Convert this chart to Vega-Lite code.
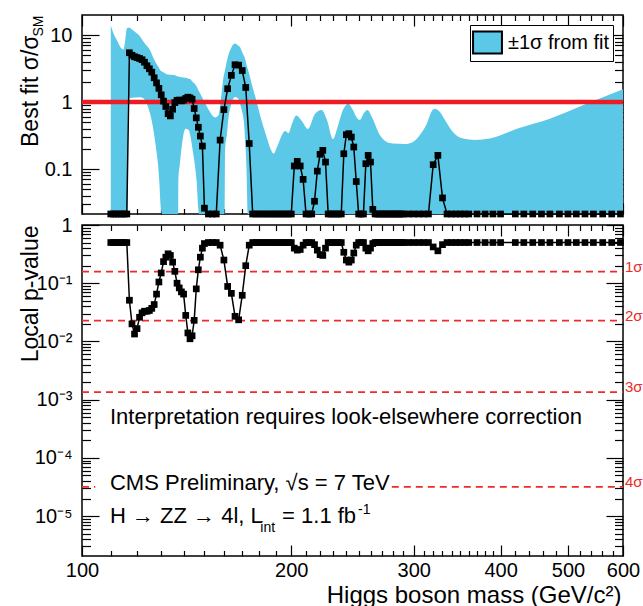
{
  "$schema": "https://vega.github.io/schema/vega-lite/v6.json",
  "background": "white",
  "padding": {"left": 18, "top": 13, "right": 0, "bottom": 0},
  "spacing": 11,
  "bounds": "flush",
  "config": {
    "font": "Liberation Sans",
    "view": {"stroke": "black", "strokeWidth": 1.5},
    "axis": {
      "domain": false,
      "grid": false,
      "tickColor": "black",
      "tickWidth": 1.2,
      "labelFont": "Liberation Sans",
      "labelFontSize": 20,
      "labelColor": "black",
      "labelOverlap": false,
      "labelFlush": false,
      "titleFont": "Liberation Sans",
      "titleFontWeight": "normal",
      "titleColor": "black",
      "zindex": 1
    }
  },
  "datasets": {
    "scan": [
      {"m": 110, "mu": 0, "p": 0.5}, {"m": 111, "mu": 0, "p": 0.5}, {"m": 112, "mu": 0, "p": 0.5},
      {"m": 113, "mu": 0, "p": 0.5}, {"m": 114, "mu": 0, "p": 0.5}, {"m": 115, "mu": 0, "p": 0.5},
      {"m": 116, "mu": 0, "p": 0.5}, {"m": 117, "mu": 5.44, "p": 0.051}, {"m": 118, "mu": 4.99, "p": 0.02},
      {"m": 119, "mu": 4.74, "p": 0.0134}, {"m": 120, "mu": 4.6, "p": 0.0166}, {"m": 121, "mu": 4.47, "p": 0.026},
      {"m": 122, "mu": 4.28, "p": 0.031}, {"m": 123, "mu": 3.93, "p": 0.033}, {"m": 124, "mu": 3.48, "p": 0.033},
      {"m": 125, "mu": 3.13, "p": 0.034}, {"m": 126, "mu": 2.79, "p": 0.037}, {"m": 127, "mu": 2.3, "p": 0.043},
      {"m": 128, "mu": 1.93, "p": 0.065}, {"m": 129, "mu": 1.6, "p": 0.105}, {"m": 130, "mu": 1.28, "p": 0.15},
      {"m": 131, "mu": 1.03, "p": 0.235}, {"m": 132, "mu": 0.857, "p": 0.28}, {"m": 133, "mu": 0.67, "p": 0.32},
      {"m": 134, "mu": 0.62, "p": 0.3}, {"m": 135, "mu": 0.78, "p": 0.23}, {"m": 136, "mu": 0.98, "p": 0.16},
      {"m": 137, "mu": 1.06, "p": 0.1}, {"m": 138, "mu": 1.07, "p": 0.083}, {"m": 139, "mu": 1.04, "p": 0.071},
      {"m": 140, "mu": 1.07, "p": 0.065}, {"m": 141, "mu": 1.13, "p": 0.028}, {"m": 142, "mu": 1.18, "p": 0.014},
      {"m": 143, "mu": 1.15, "p": 0.0111}, {"m": 144, "mu": 1.1, "p": 0.0125}, {"m": 145, "mu": 0.8, "p": 0.023},
      {"m": 146, "mu": 0.58, "p": 0.08}, {"m": 147, "mu": 0.42, "p": 0.17}, {"m": 148, "mu": 0.31, "p": 0.28},
      {"m": 149, "mu": 0.22, "p": 0.4}, {"m": 150, "mu": 0.026, "p": 0.48}, {"m": 152, "mu": 0, "p": 0.5},
      {"m": 154, "mu": 0, "p": 0.5}, {"m": 156, "mu": 0, "p": 0.5}, {"m": 158, "mu": 0.27, "p": 0.45},
      {"m": 160, "mu": 0.77, "p": 0.25}, {"m": 162, "mu": 1.58, "p": 0.088}, {"m": 164, "mu": 2.5, "p": 0.067},
      {"m": 166, "mu": 3.6, "p": 0.027}, {"m": 168, "mu": 3.55, "p": 0.0235}, {"m": 170, "mu": 2.95, "p": 0.062},
      {"m": 172, "mu": 1.65, "p": 0.2}, {"m": 174, "mu": 0.24, "p": 0.45}, {"m": 176, "mu": 0, "p": 0.5},
      {"m": 178, "mu": 0, "p": 0.5}, {"m": 180, "mu": 0, "p": 0.5}, {"m": 182, "mu": 0, "p": 0.5},
      {"m": 184, "mu": 0, "p": 0.5}, {"m": 186, "mu": 0, "p": 0.5}, {"m": 188, "mu": 0, "p": 0.5},
      {"m": 190, "mu": 0, "p": 0.5}, {"m": 192, "mu": 0, "p": 0.5}, {"m": 194, "mu": 0, "p": 0.5},
      {"m": 196, "mu": 0, "p": 0.5}, {"m": 198, "mu": 0, "p": 0.5}, {"m": 200, "mu": 0, "p": 0.5},
      {"m": 202, "mu": 0.111, "p": 0.4}, {"m": 204, "mu": 0.13, "p": 0.37}, {"m": 206, "mu": 0.111, "p": 0.38},
      {"m": 208, "mu": 0.07, "p": 0.45}, {"m": 210, "mu": 0, "p": 0.5}, {"m": 212, "mu": 0, "p": 0.5},
      {"m": 214, "mu": 0, "p": 0.5}, {"m": 216, "mu": 0.033, "p": 0.46}, {"m": 218, "mu": 0.093, "p": 0.37},
      {"m": 220, "mu": 0.166, "p": 0.31}, {"m": 222, "mu": 0.19, "p": 0.3}, {"m": 224, "mu": 0.127, "p": 0.4},
      {"m": 226, "mu": 0, "p": 0.5}, {"m": 228, "mu": 0, "p": 0.5}, {"m": 230, "mu": 0, "p": 0.5},
      {"m": 232, "mu": 0, "p": 0.5}, {"m": 234, "mu": 0, "p": 0.5}, {"m": 236, "mu": 0, "p": 0.5},
      {"m": 238, "mu": 0.169, "p": 0.34}, {"m": 240, "mu": 0.325, "p": 0.25}, {"m": 242, "mu": 0.337, "p": 0.23},
      {"m": 244, "mu": 0.3, "p": 0.25}, {"m": 246, "mu": 0.213, "p": 0.33}, {"m": 248, "mu": 0.065, "p": 0.45},
      {"m": 250, "mu": 0, "p": 0.5}, {"m": 252, "mu": 0, "p": 0.5}, {"m": 254, "mu": 0, "p": 0.5},
      {"m": 256, "mu": 0.12, "p": 0.4}, {"m": 258, "mu": 0.16, "p": 0.36}, {"m": 260, "mu": 0.127, "p": 0.4},
      {"m": 262, "mu": 0.025, "p": 0.48}, {"m": 264, "mu": 0, "p": 0.5}, {"m": 266, "mu": 0, "p": 0.5},
      {"m": 268, "mu": 0, "p": 0.5}, {"m": 270, "mu": 0, "p": 0.5}, {"m": 272, "mu": 0, "p": 0.5},
      {"m": 274, "mu": 0, "p": 0.5}, {"m": 276, "mu": 0, "p": 0.5}, {"m": 278, "mu": 0, "p": 0.5},
      {"m": 280, "mu": 0, "p": 0.5}, {"m": 282, "mu": 0, "p": 0.5}, {"m": 284, "mu": 0, "p": 0.5},
      {"m": 286, "mu": 0, "p": 0.5}, {"m": 288, "mu": 0, "p": 0.5}, {"m": 290, "mu": 0, "p": 0.5},
      {"m": 295, "mu": 0, "p": 0.5}, {"m": 300, "mu": 0, "p": 0.5}, {"m": 305, "mu": 0, "p": 0.5},
      {"m": 310, "mu": 0, "p": 0.5}, {"m": 315, "mu": 0, "p": 0.5}, {"m": 320, "mu": 0.116, "p": 0.42},
      {"m": 325, "mu": 0.16, "p": 0.36}, {"m": 330, "mu": 0.037, "p": 0.46}, {"m": 335, "mu": 0, "p": 0.5},
      {"m": 340, "mu": 0, "p": 0.5}, {"m": 345, "mu": 0, "p": 0.5}, {"m": 350, "mu": 0, "p": 0.5},
      {"m": 355, "mu": 0, "p": 0.5}, {"m": 360, "mu": 0, "p": 0.5}, {"m": 370, "mu": 0, "p": 0.5},
      {"m": 380, "mu": 0, "p": 0.5}, {"m": 390, "mu": 0, "p": 0.5}, {"m": 400, "mu": 0, "p": 0.5},
      {"m": 420, "mu": 0, "p": 0.5}, {"m": 432, "mu": 0, "p": 0.5}, {"m": 445, "mu": 0, "p": 0.5},
      {"m": 458, "mu": 0, "p": 0.5}, {"m": 471, "mu": 0, "p": 0.5}, {"m": 486, "mu": 0, "p": 0.5},
      {"m": 500, "mu": 0, "p": 0.5}, {"m": 514, "mu": 0, "p": 0.5}, {"m": 529, "mu": 0, "p": 0.5},
      {"m": 544, "mu": 0, "p": 0.5}, {"m": 561, "mu": 0, "p": 0.5}, {"m": 578, "mu": 0, "p": 0.5},
      {"m": 595, "mu": 0, "p": 0.5}
    ],
    "band": [
      {"m": 110, "hi": 13.96, "lo": 0}, {"m": 110.8, "hi": 11.09, "lo": 0}, {"m": 112.3, "hi": 8.28, "lo": 0},
      {"m": 113.8, "hi": 6.4, "lo": 0}, {"m": 114.7, "hi": 6.08, "lo": 0}, {"m": 115.3, "hi": 7.86, "lo": 0},
      {"m": 116.0, "hi": 12.5, "lo": 0}, {"m": 116.3, "hi": 12.7, "lo": 0}, {"m": 116.4, "hi": 12.7, "lo": 1.12},
      {"m": 116.9, "hi": 12.94, "lo": 1.13}, {"m": 118.0, "hi": 12.08, "lo": 1.16}, {"m": 120.0, "hi": 10.53, "lo": 1.17},
      {"m": 121.2, "hi": 9.5, "lo": 1.18}, {"m": 122.4, "hi": 8.14, "lo": 1.15}, {"m": 123.9, "hi": 6.9, "lo": 0.95},
      {"m": 124.4, "hi": 6.62, "lo": 0.85}, {"m": 125.3, "hi": 5.9, "lo": 0.67}, {"m": 126.5, "hi": 4.69, "lo": 0.42},
      {"m": 128.0, "hi": 3.7, "lo": 0.18}, {"m": 128.6, "hi": 3.44, "lo": 0.12}, {"m": 129.1, "hi": 3.2, "lo": 0.072},
      {"m": 129.9, "hi": 2.9, "lo": 0.025}, {"m": 130.3, "hi": 2.85, "lo": 0}, {"m": 130.7, "hi": 2.8, "lo": 0},
      {"m": 132.9, "hi": 2.57, "lo": 0}, {"m": 135.6, "hi": 2.53, "lo": 0}, {"m": 137.5, "hi": 2.4, "lo": 0},
      {"m": 137.6, "hi": 2.4, "lo": 0.07}, {"m": 138.3, "hi": 2.36, "lo": 0.12}, {"m": 139.0, "hi": 2.35, "lo": 0.2},
      {"m": 140.9, "hi": 2.31, "lo": 0.4}, {"m": 142.5, "hi": 2.23, "lo": 0.38}, {"m": 143.0, "hi": 2.2, "lo": 0.33},
      {"m": 144.4, "hi": 1.98, "lo": 0.18}, {"m": 145.4, "hi": 1.86, "lo": 0.11}, {"m": 146.2, "hi": 1.7, "lo": 0.064},
      {"m": 147.0, "hi": 1.5, "lo": 0.025}, {"m": 147.3, "hi": 1.45, "lo": 0}, {"m": 150.3, "hi": 0.966, "lo": 0},
      {"m": 152.8, "hi": 0.709, "lo": 0}, {"m": 155.4, "hi": 0.587, "lo": 0}, {"m": 157.2, "hi": 0.64, "lo": 0},
      {"m": 158.5, "hi": 1.147, "lo": 0}, {"m": 159.8, "hi": 2.36, "lo": 0}, {"m": 160.5, "hi": 2.9, "lo": 0},
      {"m": 160.6, "hi": 3.0, "lo": 0.19}, {"m": 161.7, "hi": 4.24, "lo": 0.35}, {"m": 162.1, "hi": 4.7, "lo": 0.47},
      {"m": 164.0, "hi": 6.5, "lo": 0.94}, {"m": 166.0, "hi": 7.45, "lo": 1.19}, {"m": 167.8, "hi": 6.9, "lo": 1.12},
      {"m": 168.7, "hi": 6.62, "lo": 0.95}, {"m": 169.8, "hi": 5.7, "lo": 0.75}, {"m": 171.0, "hi": 4.86, "lo": 0.48},
      {"m": 171.4, "hi": 4.6, "lo": 0.34}, {"m": 172.4, "hi": 3.6, "lo": 0.107}, {"m": 173.2, "hi": 3.1, "lo": 0},
      {"m": 175.6, "hi": 1.79, "lo": 0}, {"m": 177.9, "hi": 1.11, "lo": 0}, {"m": 181.5, "hi": 0.503, "lo": 0},
      {"m": 184.5, "hi": 0.29, "lo": 0}, {"m": 187.0, "hi": 0.192, "lo": 0}, {"m": 188.6, "hi": 0.17, "lo": 0},
      {"m": 190.8, "hi": 0.213, "lo": 0}, {"m": 193.3, "hi": 0.3, "lo": 0}, {"m": 195.9, "hi": 0.369, "lo": 0},
      {"m": 198.2, "hi": 0.345, "lo": 0}, {"m": 200.4, "hi": 0.469, "lo": 0}, {"m": 203.4, "hi": 0.629, "lo": 0},
      {"m": 207.1, "hi": 0.52, "lo": 0}, {"m": 211.3, "hi": 0.395, "lo": 0}, {"m": 216.3, "hi": 0.662, "lo": 0},
      {"m": 221.0, "hi": 0.76, "lo": 0}, {"m": 225.1, "hi": 0.539, "lo": 0}, {"m": 229.6, "hi": 0.28, "lo": 0},
      {"m": 233.4, "hi": 0.438, "lo": 0}, {"m": 237.3, "hi": 0.76, "lo": 0}, {"m": 241.5, "hi": 0.943, "lo": 0},
      {"m": 245.3, "hi": 0.76, "lo": 0}, {"m": 248.6, "hi": 0.577, "lo": 0}, {"m": 251.0, "hi": 0.539, "lo": 0},
      {"m": 254.4, "hi": 0.685, "lo": 0}, {"m": 257.4, "hi": 0.76, "lo": 0}, {"m": 261.2, "hi": 0.597, "lo": 0},
      {"m": 268.2, "hi": 0.322, "lo": 0}, {"m": 274.5, "hi": 0.253, "lo": 0}, {"m": 280.0, "hi": 0.24, "lo": 0},
      {"m": 291.4, "hi": 0.236, "lo": 0}, {"m": 299.2, "hi": 0.253, "lo": 0}, {"m": 306.2, "hi": 0.322, "lo": 0},
      {"m": 313.4, "hi": 0.478, "lo": 0}, {"m": 318.6, "hi": 0.734, "lo": 0}, {"m": 321.8, "hi": 0.794, "lo": 0},
      {"m": 327.2, "hi": 0.709, "lo": 0}, {"m": 332.7, "hi": 0.539, "lo": 0}, {"m": 341.6, "hi": 0.357, "lo": 0},
      {"m": 353.1, "hi": 0.285, "lo": 0}, {"m": 367.4, "hi": 0.271, "lo": 0}, {"m": 386.1, "hi": 0.285, "lo": 0},
      {"m": 422.3, "hi": 0.399, "lo": 0}, {"m": 470.9, "hi": 0.563, "lo": 0}, {"m": 525.3, "hi": 0.893, "lo": 0},
      {"m": 600, "hi": 1.55, "lo": 0}
    ],
    "sigma": [
      {"label": "1σ", "p": 0.1587, "from": 100, "to": 600},
      {"label": "2σ", "p": 0.02275, "from": 100, "to": 600},
      {"label": "3σ", "p": 0.00135, "from": 100, "to": 600},
      {"label": "4σ", "p": 3.167e-5, "from": 100, "to": 104.5},
      {"label": "4σ", "p": 3.167e-5, "from": 279, "to": 600}
    ]
  },
  "vconcat": [
    {
      "width": 541,
      "height": 199,
      "layer": [
        {
          "data": {"name": "band"},
          "mark": {"type": "area", "interpolate": "monotone", "opacity": 1},
          "encoding": {
            "x": {"field": "m", "type": "quantitative",
                  "scale": {"type": "log", "domain": [100, 600], "nice": false},
                  "axis": {"orient": "bottom", "labels": false, "title": null,
                           "values": [100,110,120,130,140,150,160,170,180,190,200,210,220,230,240,250,260,270,280,290,300,310,320,330,340,350,360,370,380,390,400,420,440,460,480,500,520,540,560,580,600],
                           "tickSize": {"condition": {"test": "datum.value % 100 == 0", "value": -11}, "value": -5.5}}},
            "y": {"field": "hi", "type": "quantitative",
                  "scale": {"type": "log", "domain": [0.0213, 19.9], "nice": false, "clamp": true},
                  "axis": {"orient": "left",
                           "values": [0.03,0.04,0.05,0.06,0.07,0.08,0.09,0.1,0.2,0.3,0.4,0.5,0.6,0.7,0.8,0.9,1,2,3,4,5,6,7,8,9,10],
                           "labelExpr": "abs(log(datum.value)/LN10 - round(log(datum.value)/LN10)) < 0.01 ? format(datum.value, '~g') : ''",
                           "tickSize": {"condition": {"test": "abs(log(datum.value)/LN10 - round(log(datum.value)/LN10)) < 0.01", "value": -17}, "value": -8.5},
                           "labelPadding": 27,
                           "title": "Best fit σ/σ", "titleFontSize": 23, "titleAngle": 270,
                           "titleX": -45, "titleY": 20, "titleAlign": "right", "titleBaseline": "alphabetic"}},
            "y2": {"field": "lo"},
            "fill": {"datum": "±1σ from fit", "type": "nominal",
                     "scale": {"range": ["#5ac8e6"]},
                     "legend": {"title": null, "orient": "top-right", "offset": 10, "padding": 3,
                                "strokeColor": "black", "fillColor": "white",
                                "symbolType": "M-1.07,-0.81H1.07V0.81H-1.07Z", "symbolSize": 729,
                                "symbolStrokeColor": "black", "symbolStrokeWidth": 2,
                                "labelFont": "Liberation Sans", "labelFontSize": 20, "labelColor": "black", "labelOffset": 6,
                                "labelExpr": "datum.label + '\u00a0\u00a0\u00a0'",
                                "encode": {"symbols": {"update": {"stroke": {"value": "black"}, "strokeWidth": {"value": 2}}},
                                           "legend": {"update": {"strokeWidth": {"value": 1.2}}}}}}
          }
        },
        {
          "data": {"values": [{}]},
          "mark": {"type": "rule", "color": "#ed1c24", "strokeWidth": 4.5},
          "encoding": {
            "y": {"datum": 1, "type": "quantitative",
                  "scale": {"type": "log", "domain": [0.0213, 19.9], "nice": false, "clamp": true},
                  "axis": {"orient": "right", "labels": false, "title": null,
                           "values": [0.03,0.04,0.05,0.06,0.07,0.08,0.09,0.1,0.2,0.3,0.4,0.5,0.6,0.7,0.8,0.9,1,2,3,4,5,6,7,8,9,10],
                           "tickSize": {"condition": {"test": "abs(log(datum.value)/LN10 - round(log(datum.value)/LN10)) < 0.01", "value": -17}, "value": -8.5}}}
          }
        },
        {
          "data": {"name": "scan"},
          "mark": {"type": "line", "color": "black", "strokeWidth": 1.5},
          "encoding": {
            "x": {"field": "m", "type": "quantitative",
                  "scale": {"type": "log", "domain": [100, 600], "nice": false},
                  "axis": {"orient": "top", "labels": false, "title": null,
                           "values": [100,110,120,130,140,150,160,170,180,190,200,210,220,230,240,250,260,270,280,290,300,310,320,330,340,350,360,370,380,390,400,420,440,460,480,500,520,540,560,580,600],
                           "tickSize": {"condition": {"test": "datum.value % 100 == 0", "value": -11}, "value": -5.5}}},
            "y": {"field": "mu", "type": "quantitative",
                  "scale": {"type": "log", "domain": [0.0213, 19.9], "nice": false, "clamp": true},
                  "axis": {"orient": "left", "ticks": false, "labels": false,
                           "title": "SM", "titleFontSize": 14, "titleAngle": 270,
                           "titleX": -40, "titleY": 0, "titleAlign": "right", "titleBaseline": "alphabetic"}}
          }
        },
        {
          "data": {"name": "scan"},
          "mark": {"type": "square", "color": "black", "size": 45, "opacity": 1},
          "encoding": {
            "x": {"field": "m", "type": "quantitative", "scale": {"type": "log", "domain": [100, 600], "nice": false}, "axis": null},
            "y": {"field": "mu", "type": "quantitative", "scale": {"type": "log", "domain": [0.0213, 19.9], "nice": false, "clamp": true}, "axis": null}
          }
        }
      ],
      "resolve": {"axis": {"x": "independent", "y": "independent"}}
    },
    {
      "width": 541,
      "height": 331,
      "layer": [
        {
          "data": {"name": "sigma"},
          "mark": {"type": "rule", "color": "#ee2a2a", "strokeWidth": 1.8, "strokeDash": [7, 5]},
          "encoding": {
            "x": {"field": "from", "type": "quantitative",
                  "scale": {"type": "log", "domain": [100, 600], "nice": false},
                  "axis": {"orient": "top", "labels": false, "title": null,
                           "values": [100,110,120,130,140,150,160,170,180,190,200,210,220,230,240,250,260,270,280,290,300,310,320,330,340,350,360,370,380,390,400,420,440,460,480,500,520,540,560,580,600],
                           "tickSize": {"condition": {"test": "datum.value % 100 == 0", "value": -11}, "value": -5.5}}},
            "x2": {"field": "to"},
            "y": {"field": "p", "type": "quantitative",
                  "scale": {"type": "log", "domain": [2.06e-6, 1], "nice": false, "clamp": true},
                  "axis": {"orient": "right", "labels": false, "title": null,
                           "values": [3e-6,4e-6,5e-6,6e-6,7e-6,8e-6,9e-6,1e-5,2e-5,3e-5,4e-5,5e-5,6e-5,7e-5,8e-5,9e-5,1e-4,2e-4,3e-4,4e-4,5e-4,6e-4,7e-4,8e-4,9e-4,1e-3,2e-3,3e-3,4e-3,5e-3,6e-3,7e-3,8e-3,9e-3,0.01,0.02,0.03,0.04,0.05,0.06,0.07,0.08,0.09,0.1,0.2,0.3,0.4,0.5,0.6,0.7,0.8,0.9,1],
                           "tickSize": {"condition": {"test": "abs(log(datum.value)/LN10 - round(log(datum.value)/LN10)) < 0.01", "value": -17}, "value": -8.5}}}
          }
        },
        {
          "data": {"name": "scan"},
          "mark": {"type": "line", "color": "black", "strokeWidth": 1.5},
          "encoding": {
            "x": {"field": "m", "type": "quantitative",
                  "scale": {"type": "log", "domain": [100, 600], "nice": false},
                  "axis": {"orient": "bottom",
                           "values": [100,110,120,130,140,150,160,170,180,190,200,210,220,230,240,250,260,270,280,290,300,310,320,330,340,350,360,370,380,390,400,420,440,460,480,500,520,540,560,580,600],
                           "labelExpr": "datum.value % 100 == 0 ? format(datum.value, 'd') : ''",
                           "tickSize": {"condition": {"test": "datum.value % 100 == 0", "value": -11}, "value": -5.5},
                           "labelPadding": 15, "labelAlign": "center",
                           "title": "Higgs boson mass (GeV/c²)", "titleFontSize": 24,
                           "titleX": 539, "titleY": 46, "titleAlign": "right", "titleBaseline": "alphabetic"}},
            "y": {"field": "p", "type": "quantitative",
                  "scale": {"type": "log", "domain": [2.06e-6, 1], "nice": false, "clamp": true},
                  "axis": {"orient": "left",
                           "values": [3e-6,4e-6,5e-6,6e-6,7e-6,8e-6,9e-6,1e-5,2e-5,3e-5,4e-5,5e-5,6e-5,7e-5,8e-5,9e-5,1e-4,2e-4,3e-4,4e-4,5e-4,6e-4,7e-4,8e-4,9e-4,1e-3,2e-3,3e-3,4e-3,5e-3,6e-3,7e-3,8e-3,9e-3,0.01,0.02,0.03,0.04,0.05,0.06,0.07,0.08,0.09,0.1,0.2,0.3,0.4,0.5,0.6,0.7,0.8,0.9,1],
                           "labelExpr": "abs(log(datum.value)/LN10 - round(log(datum.value)/LN10)) < 0.01 ? (datum.value > 0.5 ? '1' : '10' + ['', '⁻¹', '⁻²', '⁻³', '⁻⁴', '⁻⁵'][round(-log(datum.value)/LN10)]) : ''",
                           "tickSize": {"condition": {"test": "abs(log(datum.value)/LN10 - round(log(datum.value)/LN10)) < 0.01", "value": -17}, "value": -8.5},
                           "labelPadding": 27,
                           "title": "Local p-value", "titleFontSize": 23, "titleAngle": 270,
                           "titleX": -45, "titleY": 0, "titleAlign": "right", "titleBaseline": "alphabetic"}}
          }
        },
        {
          "data": {"name": "scan"},
          "mark": {"type": "square", "color": "black", "size": 45, "opacity": 1},
          "encoding": {
            "x": {"field": "m", "type": "quantitative", "scale": {"type": "log", "domain": [100, 600], "nice": false}, "axis": null},
            "y": {"field": "p", "type": "quantitative", "scale": {"type": "log", "domain": [2.06e-6, 1], "nice": false, "clamp": true}, "axis": null}
          }
        },
        {
          "data": {"name": "sigma"},
          "transform": [{"filter": "datum.to == 600"}],
          "mark": {"type": "text", "color": "#ee2a2a", "fontSize": 15, "align": "left", "baseline": "alphabetic", "dx": 2, "font": "Liberation Sans"},
          "encoding": {
            "x": {"datum": 600, "type": "quantitative", "scale": {"type": "log", "domain": [100, 600], "nice": false}, "axis": null},
            "y": {"field": "p", "type": "quantitative", "scale": {"type": "log", "domain": [2.06e-6, 1], "nice": false, "clamp": true}, "axis": null},
            "text": {"field": "label"}
          }
        },
        {
          "data": {"values": [{}]},
          "mark": {"type": "text", "text": "Interpretation requires look-elsewhere correction", "fontSize": 22, "align": "left", "baseline": "alphabetic", "color": "black", "font": "Liberation Sans"},
          "encoding": {
            "x": {"datum": 109.7, "type": "quantitative", "scale": {"type": "log", "domain": [100, 600], "nice": false}, "axis": null},
            "y": {"datum": 0.000385, "type": "quantitative", "scale": {"type": "log", "domain": [2.06e-6, 1], "nice": false, "clamp": true}, "axis": null}
          }
        },
        {
          "data": {"values": [{}]},
          "mark": {"type": "text", "text": "CMS Preliminary, √s = 7 TeV", "fontSize": 22, "align": "left", "baseline": "alphabetic", "color": "black", "font": "Liberation Sans"},
          "encoding": {
            "x": {"datum": 109.7, "type": "quantitative", "scale": {"type": "log", "domain": [100, 600], "nice": false}, "axis": null},
            "y": {"datum": 0.0000276, "type": "quantitative", "scale": {"type": "log", "domain": [2.06e-6, 1], "nice": false, "clamp": true}, "axis": null}
          }
        },
        {
          "data": {"values": [{}]},
          "mark": {"type": "text", "text": "H → ZZ → 4l, L", "fontSize": 22, "align": "left", "baseline": "alphabetic", "color": "black", "font": "Liberation Sans"},
          "encoding": {
            "x": {"datum": 109.7, "type": "quantitative", "scale": {"type": "log", "domain": [100, 600], "nice": false}, "axis": null},
            "y": {"datum": 0.00000767, "type": "quantitative", "scale": {"type": "log", "domain": [2.06e-6, 1], "nice": false, "clamp": true}, "axis": null}
          }
        },
        {
          "data": {"values": [{}]},
          "mark": {"type": "text", "text": "int", "fontSize": 14, "align": "left", "baseline": "alphabetic", "color": "black", "font": "Liberation Sans"},
          "encoding": {
            "x": {"datum": 180.5, "type": "quantitative", "scale": {"type": "log", "domain": [100, 600], "nice": false}, "axis": null},
            "y": {"datum": 0.0000053, "type": "quantitative", "scale": {"type": "log", "domain": [2.06e-6, 1], "nice": false, "clamp": true}, "axis": null}
          }
        },
        {
          "data": {"values": [{}]},
          "mark": {"type": "text", "text": "= 1.1 fb", "fontSize": 22, "align": "left", "baseline": "alphabetic", "color": "black", "font": "Liberation Sans"},
          "encoding": {
            "x": {"datum": 194.0, "type": "quantitative", "scale": {"type": "log", "domain": [100, 600], "nice": false}, "axis": null},
            "y": {"datum": 0.00000767, "type": "quantitative", "scale": {"type": "log", "domain": [2.06e-6, 1], "nice": false, "clamp": true}, "axis": null}
          }
        },
        {
          "data": {"values": [{}]},
          "mark": {"type": "text", "text": "-1", "fontSize": 14, "align": "left", "baseline": "alphabetic", "color": "black", "font": "Liberation Sans"},
          "encoding": {
            "x": {"datum": 249.5, "type": "quantitative", "scale": {"type": "log", "domain": [100, 600], "nice": false}, "axis": null},
            "y": {"datum": 0.000011, "type": "quantitative", "scale": {"type": "log", "domain": [2.06e-6, 1], "nice": false, "clamp": true}, "axis": null}
          }
        }
      ],
      "resolve": {"axis": {"x": "independent", "y": "independent"}}
    }
  ]
}
